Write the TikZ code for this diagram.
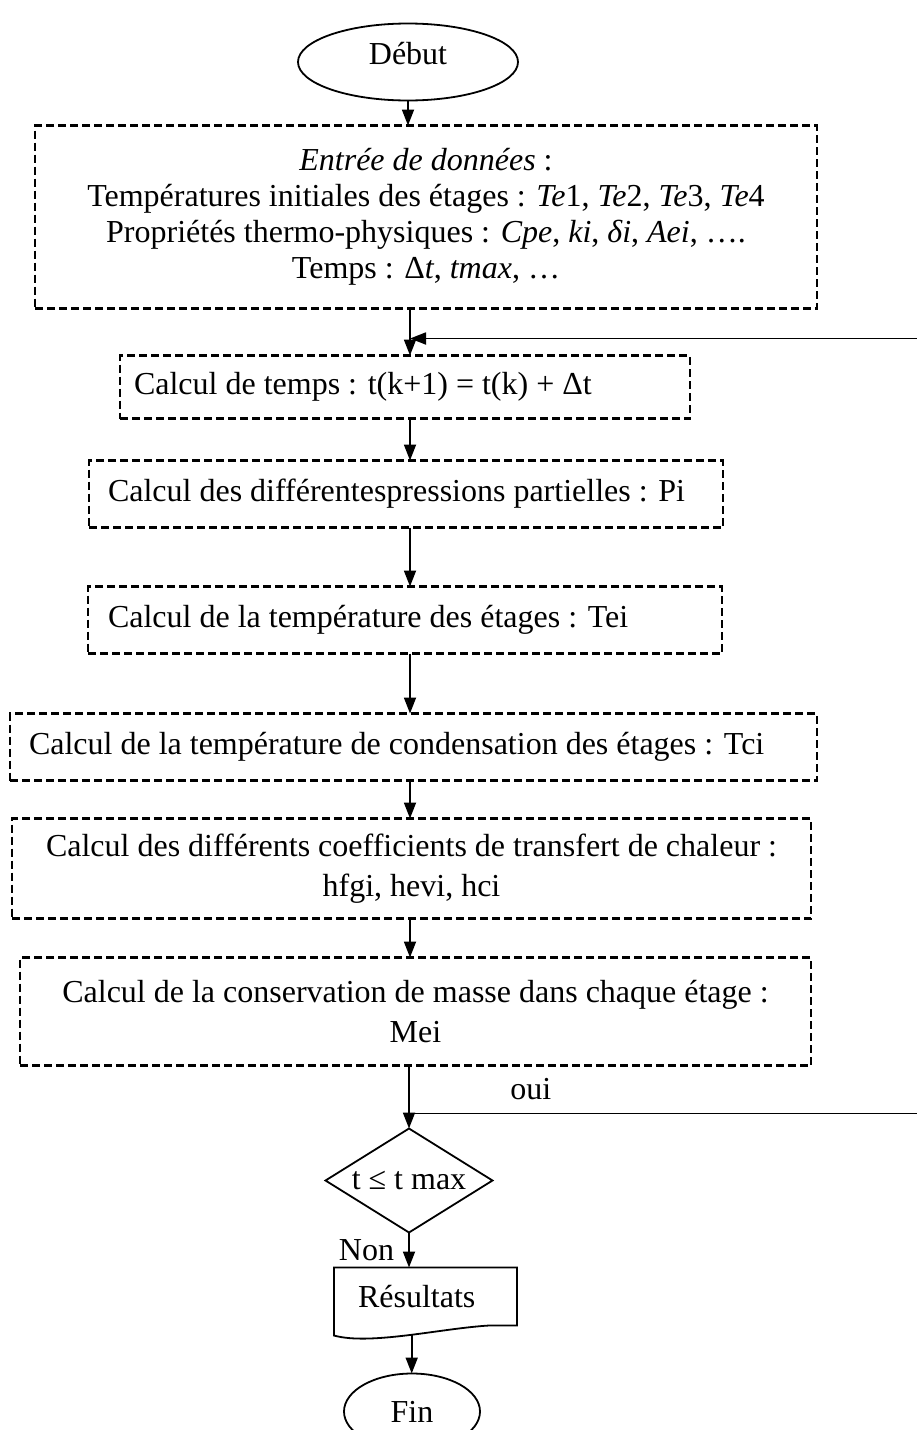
\documentclass[tikz,border=0pt]{standalone}
\usepackage{fontspec}
\setmainfont{Liberation Serif}
\usetikzlibrary{shapes,arrows.meta,positioning,calc}

\tikzset{
  every node/.style={font=\fontsize{32}{36}\selectfont},
  term/.style={ellipse, draw, line width=1.8pt, inner sep=0pt, outer sep=0pt},
  dbox/.style={rectangle, draw, line width=2.4pt, dash pattern=on 8pt off 4pt, inner sep=0pt, outer sep=0pt},
  test/.style={diamond, draw, line width=1.8pt, inner sep=0pt, outer sep=0pt, aspect=1.6},
  arr/.style={-{Triangle[length=16pt,width=12pt]}, line width=1.8pt},
}

\begin{document}
\begin{tikzpicture}[x=1pt, y=1pt]
    \useasboundingbox (0,0) rectangle (917,-1430);
    \coordinate (spine) at (410,0);
    \coordinate (rim) at (917,0);
    \node[term, minimum width=220pt, minimum height=77pt, text depth=18pt] (debut) at (408,-62) {Début};
    \node[dbox, minimum width=782pt, minimum height=183pt, align=center, below=25pt of debut, xshift=18pt] (entree)
      {\textit{Entrée de données} :\\
       Températures initiales des étages : \textit{Te}1, \textit{Te}2, \textit{Te}3, \textit{Te}4\\
       Propriétés thermo-physiques : \textit{Cpe}, \textit{ki}, \textit{δi}, \textit{Aei}, ….\\
       Temps : Δ\textit{t}, \textit{tmax}, …};
    \node[dbox, text width=542pt, inner xsep=14pt, minimum height=63pt, align=flush left, below=47pt of entree, xshift=-21pt] (temps)
      {Calcul de temps : t(k+1) = t(k) + Δt};
    \node[dbox, text width=596pt, inner xsep=19pt, minimum height=67pt, align=flush left, below=42pt of temps, xshift=1pt] (pi)
      {Calcul des différentespressions partielles : Pi};
    \node[dbox, text width=594pt, inner xsep=20pt, minimum height=67pt, align=flush left, below=59pt of pi, xshift=-1pt] (tei)
      {Calcul de la température des étages : Tei};
    \node[dbox, text width=769pt, inner xsep=19pt, minimum height=67pt, align=flush left, below=60pt of tei, xshift=8.5pt] (cond)
      {Calcul de la température de condensation des étages : Tci};
    \node[dbox, minimum width=799pt, minimum height=100pt, align=center, below=38pt of cond, xshift=-2pt] (coef)
      {Calcul des différents coefficients de transfert de chaleur :\\[4pt] hfgi, hevi, hci};
    \node[dbox, minimum width=791pt, minimum height=108pt, align=center, below=39pt of coef, xshift=4pt] (masse)
      {Calcul de la conservation de masse dans chaque étage :\\[4pt] Mei};
    \node[test, minimum width=167pt, minimum height=104pt, below=63pt of masse, xshift=-6.5pt] (tmax) {t ≤ t max};
    \node[text width=135pt, inner xsep=24pt, outer sep=0pt, minimum height=58pt, align=flush left, below=35pt of tmax, xshift=16.5pt] (res) {Résultats};
    \node[term, minimum width=136pt, minimum height=76pt, below=48pt of res, xshift=-13.5pt] (fin) {Fin};

    \draw[line width=1.8pt] (res.north west) -- (res.north east) -- (res.south east)
      -- ($(res.south west)+(155,0)$)
      .. controls ($(res.south west)+(106,-3)$) and ($(res.south west)+(36,-20)$) .. node[pos=.47, coordinate] (wave) {}
      ($(res.south west)+(0,-10)$) -- cycle;

    \coordinate (back) at ($(temps.north -| spine)+(0,17)$);
    \coordinate (loop) at ($(tmax.north)+(0,15)$);

    \draw[arr] (debut) -- (entree.north -| debut);
    \draw[arr] (entree.south -| spine) -- (temps.north -| spine);
    \draw[arr] (back -| rim) -- (back);
    \draw[arr] (temps.south -| spine) -- (pi.north -| spine);
    \draw[arr] (pi.south -| spine) -- (tei.north -| spine);
    \draw[arr] (tei.south -| spine) -- (cond.north -| spine);
    \draw[arr] (cond.south -| spine) -- (coef.north -| spine);
    \draw[arr] (coef.south -| spine) -- (masse.north -| spine);
    \draw[arr] (masse.south -| tmax.north) -- (tmax.north);
    \draw[line width=1.8pt] (loop) -- node[above, pos=.24, inner sep=13pt] {oui} (loop -| rim);
    \draw[arr] (tmax.south) -- node[left, inner sep=14pt] {Non} (tmax.south |- res.north);
    \draw[arr] (wave) -- (wave |- fin.north);
\end{tikzpicture}
\end{document}
